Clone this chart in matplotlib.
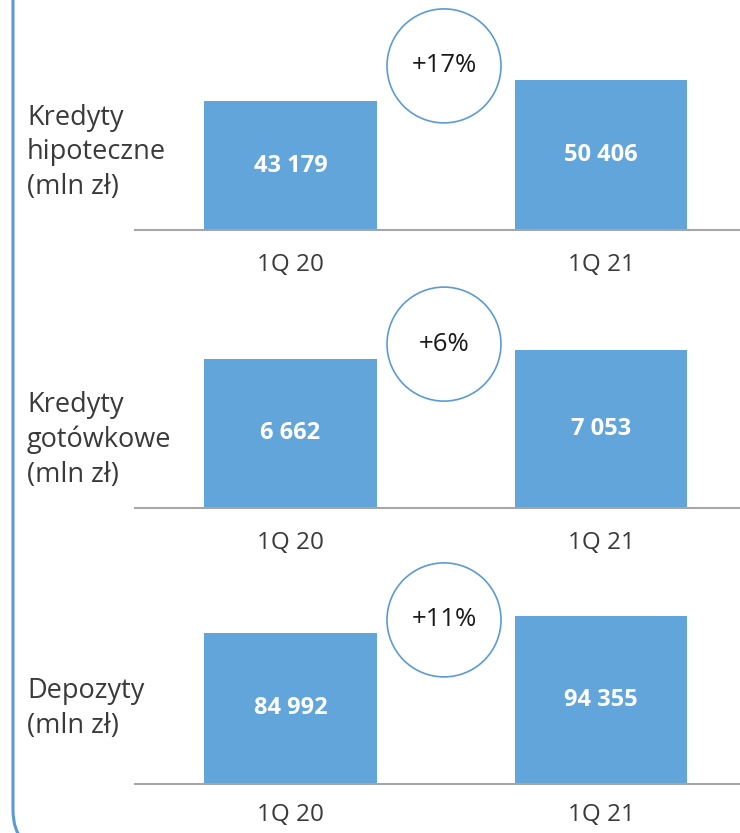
import matplotlib
matplotlib.use("Agg")
import matplotlib.pyplot as plt
from matplotlib.patches import Circle, FancyBboxPatch

# data
periods = ["1Q 20", "1Q 21"]
titles = ["Kredyty\nhipoteczne\n(mln zł)", "Kredyty\ngotówkowe\n(mln zł)", "Depozyty\n(mln zł)"]
values_20 = [43179, 6662, 84992]
values_21 = [50406, 7053, 94355]
changes = ["+17%", "+6%", "+11%"]

plt.rcParams["font.family"] = ["Open Sans", "DejaVu Sans"]

W, H = 740, 833
fig = plt.figure(figsize=(W / 100, H / 100), dpi=100)

bar_color = "#62A5DA"
line_color = "#5B9BD5"
text_color = "#3a3a3a"

# layout (pixels from top)
baselines = [229.5, 507.7, 783.5]
bar1_px = [128, 149.2, 150.5]   # pixel height of first bar in each panel
title_y = [152.5, 440, 708.5]
ax_h = 220
x_left, x_right = 135, 740

def fmt(v):
    return f"{v:,}".replace(",", " ")

for i in range(3):
    base = baselines[i]
    ax = fig.add_axes([x_left / W, (H - base) / H, (x_right - x_left) / W, ax_h / H])
    ax.patch.set_alpha(0)
    vals = [values_20[i], values_21[i]]
    ax.bar([0, 1], vals, width=0.557, color=bar_color)
    ax.set_xlim(-0.5008, 1.4477)
    ax.set_ylim(0, vals[0] * ax_h / bar1_px[i])
    for s in ["top", "left", "right"]:
        ax.spines[s].set_visible(False)
    ax.spines["bottom"].set_color("#A6A6A6")
    ax.spines["bottom"].set_linewidth(1.5)
    ax.set_yticks([])
    ax.set_xticks([0, 1])
    ax.set_xticklabels(periods, fontsize=17.5, color=text_color)
    ax.tick_params(axis="x", length=0, pad=17 if i < 2 else 14)
    for x, v in zip([0, 1], vals):
        ax.text(x, v / 2, fmt(v), ha="center", va="center", color="white",
                fontsize=17, fontweight="bold")

    # title on the left
    fig.text(27 / W, 1 - title_y[i] / H, titles[i], ha="left", va="center",
             fontsize=19.5, color=text_color, linespacing=1.32)

    # change circle
    cx, cy = 444, base - 163.6
    circ = Circle((cx / 100, (H - cy) / 100), 0.57, transform=fig.dpi_scale_trans,
                  facecolor="white", edgecolor=line_color, linewidth=1.2, zorder=5)
    fig.patches.append(circ)
    fig.text(cx / W, 1 - cy / H, changes[i], ha="center", va="center",
             fontsize=18.5, color="#1a1a1a", zorder=6)

# rounded frame on the left
frame = FancyBboxPatch((0.13, -0.18), 9.0, 10.0, boxstyle="round,pad=0,rounding_size=0.41",
                       transform=fig.dpi_scale_trans, facecolor="none",
                       edgecolor=line_color, linewidth=2.2)
fig.patches.append(frame)

fig.savefig("out.png", dpi=100)
